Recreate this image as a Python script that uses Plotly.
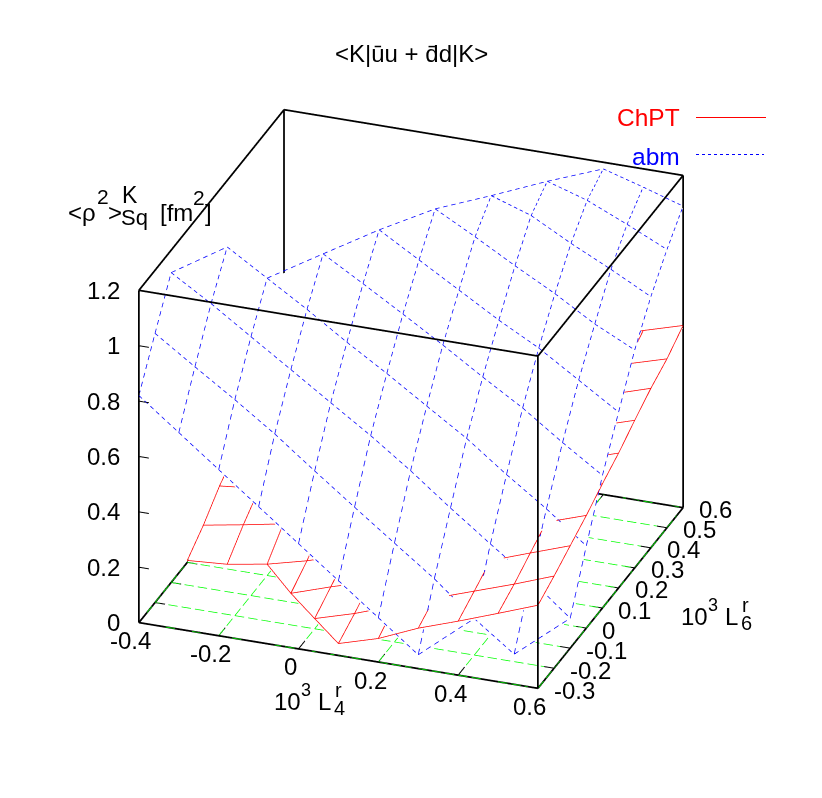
"""
Kaon scalar radius surfaces, ChPT against abm, as a hidden-line 3D box.
"""

import plotly.graph_objects as go

# grid of the two low energy constants
x_nodes = [-0.4, -0.3, -0.2, -0.1, 0.0, 0.1, 0.2, 0.3, 0.4, 0.5, 0.6]
y_nodes = [-0.3, -0.2, -0.1, 0.0, 0.1, 0.2, 0.3, 0.4, 0.5, 0.6]

# rows follow y_nodes, columns follow x_nodes, None = outside the z range
chpt_z = [
    [None, None, None, None, None, 0.043, 0.085, 0.146, 0.195, 0.247, 0.300],
    [None, None, None, None, 0.037, 0.079, 0.130, 0.182, 0.231, 0.280, 0.333],
    [None, None, None, 0.032, 0.079, 0.122, 0.169, 0.219, 0.269, 0.320, 0.370],
    [0.007, 0.017, 0.041, 0.077, 0.122, 0.165, 0.212, 0.262, 0.312, 0.359, 0.407],
    [0.062, 0.087, 0.114, 0.139, 0.169, 0.209, 0.254, 0.304, 0.354, 0.399, 0.449],
    [0.131, 0.146, 0.171, 0.201, 0.231, 0.266, 0.306, 0.351, 0.396, 0.441, 0.487],
    [0.183, 0.198, 0.218, 0.248, 0.278, 0.313, 0.353, 0.398, 0.443, 0.488, 0.533],
    [0.236, 0.251, 0.271, 0.296, 0.326, 0.361, 0.401, 0.446, 0.486, 0.531, 0.576],
    [0.288, 0.303, 0.318, 0.343, 0.373, 0.408, 0.448, 0.488, 0.528, 0.568, 0.610],
    [0.340, 0.350, 0.370, 0.395, 0.420, 0.455, 0.495, 0.535, 0.575, 0.616, 0.658],
]
abm_z = [
    [0.820, 0.710, 0.600, 0.490, 0.380, 0.270, 0.160, 0.050, None, None, None],
    [0.972, 0.875, 0.780, 0.680, 0.570, 0.463, 0.357, 0.252, 0.132, 0.027, None],
    [1.119, 1.031, 0.935, 0.840, 0.744, 0.649, 0.546, 0.435, 0.329, 0.225, 0.108],
    [None, 1.163, 1.074, 0.985, 0.890, 0.801, 0.707, 0.614, 0.507, 0.407, 0.297],
    [None, None, None, 1.113, 1.029, 0.943, 0.855, 0.763, 0.675, 0.574, 0.479],
    [None, None, None, None, 1.151, 1.066, 0.981, 0.896, 0.819, 0.727, 0.635],
    [None, None, None, None, None, 1.178, 1.101, 1.020, 0.943, 0.857, 0.787],
    [None, None, None, None, None, None, 1.177, 1.129, 1.052, 0.982, 0.907],
    [None, None, None, None, None, None, None, 1.180, 1.135, 1.072, 1.005],
    [None, None, None, None, None, None, None, None, 1.176, 1.134, 1.089],
]

x_range = [-0.4, 0.6]
y_range = [-0.3, 0.6]
z_range = [0, 1.2]
x_ticks = [-0.4, -0.2, 0, 0.2, 0.4, 0.6]
y_ticks = [-0.3, -0.2, -0.1, 0, 0.1, 0.2, 0.3, 0.4, 0.5, 0.6]
z_ticks = [0, 0.2, 0.4, 0.6, 0.8, 1, 1.2]

FONT = "Liberation Sans"
# the page keeps its 8px body margin, figure sits inside it
W, H = 806, 782
PAGE = 8
# axes run a little past the box: scatter3d clips at the axis range and eats lines on it
PAD = 0.01


def add_lines(fig, segs, color, width, dashes=0, duty=0.6):
    """Straight segments; with dashes > 0 each one is cut into that many dashes
    (the WebGL dash pattern is far too long for this picture)."""
    lx, ly, lz = [], [], []
    for a, b in segs:
        if dashes:
            for n in range(dashes):
                f0, f1 = n / dashes, (n + duty) / dashes
                lx.extend([a[0] + (b[0] - a[0]) * f0, a[0] + (b[0] - a[0]) * f1, None])
                ly.extend([a[1] + (b[1] - a[1]) * f0, a[1] + (b[1] - a[1]) * f1, None])
                lz.extend([a[2] + (b[2] - a[2]) * f0, a[2] + (b[2] - a[2]) * f1, None])
        else:
            lx.extend([a[0], b[0], None])
            ly.extend([a[1], b[1], None])
            lz.extend([a[2], b[2], None])
    fig.add_trace(go.Scatter3d(
        x=lx, y=ly, z=lz, mode="lines", hoverinfo="skip",
        line=dict(color=color, width=width),
    ))


def add_surface(fig, z, color, width, dashes=0, duty=0.6):
    """White mesh for hiding, grid lines on top, triangles kept where 3 nodes are valid."""
    nx, ny = len(x_nodes), len(y_nodes)
    xs, ys, zs = [], [], []
    for j in range(ny):
        for i in range(nx):
            xs.append(x_nodes[i])
            ys.append(y_nodes[j])
            # mesh sits a hair below its lines so they don't z-fight
            zs.append(z[j][i] - 0.008 if z[j][i] is not None else 0)
    tri_i, tri_j, tri_k = [], [], []
    segs = []

    def seg(a, b):
        segs.append(((x_nodes[a[0]], y_nodes[a[1]], z[a[1]][a[0]]),
                     (x_nodes[b[0]], y_nodes[b[1]], z[b[1]][b[0]])))

    for j in range(ny):
        for i in range(nx):
            if i + 1 < nx and z[j][i] is not None and z[j][i + 1] is not None:
                seg((i, j), (i + 1, j))
            if j + 1 < ny and z[j][i] is not None and z[j + 1][i] is not None:
                seg((i, j), (i, j + 1))
            if i + 1 < nx and j + 1 < ny:
                quad = [(i, j), (i + 1, j), (i + 1, j + 1), (i, j + 1)]
                good = [p for p in quad if z[p[1]][p[0]] is not None]
                ids = [p[1] * nx + p[0] for p in good]
                if len(good) == 4:
                    tri_i += [ids[0], ids[0]]
                    tri_j += [ids[1], ids[2]]
                    tri_k += [ids[2], ids[3]]
                elif len(good) == 3:
                    tri_i.append(ids[0])
                    tri_j.append(ids[1])
                    tri_k.append(ids[2])
                    # hypotenuse is the edge whose ends are not neighbours on the grid
                    for a, b in [(good[0], good[1]), (good[1], good[2]), (good[0], good[2])]:
                        if a[0] != b[0] and a[1] != b[1]:
                            seg(a, b)
    fig.add_trace(go.Mesh3d(
        x=xs, y=ys, z=zs, i=tri_i, j=tri_j, k=tri_k, color="white", opacity=1,
        flatshading=True, hoverinfo="skip",
        lighting=dict(ambient=1, diffuse=0, specular=0, roughness=1, fresnel=0),
    ))
    add_lines(fig, segs, color, width, dashes, duty)


def paper_text(text, px, py, size=24, color="black", xanchor="center"):
    return dict(
        text=text, x=(px - PAGE) / W, y=1 - (py - PAGE) / H, xref="paper", yref="paper",
        xanchor=xanchor, yanchor="middle", showarrow=False, borderpad=0, borderwidth=0,
        font=dict(family=FONT, size=size, color=color),
    )


def tick_text(text, x, y, z, dx, dy, xanchor="center"):
    return dict(
        text=text, x=x, y=y, z=z, xshift=dx, yshift=dy, xanchor=xanchor, yanchor="middle",
        showarrow=False, font=dict(family=FONT, size=24, color="black"),
    )


fig = go.Figure()
add_surface(fig, chpt_z, "#ff0000", 1.5)
add_surface(fig, abm_z, "#0000ff", 1.5, dashes=7, duty=0.55)

x0, x1 = x_range
y0, y1 = y_range
z0, z1 = z_range

box = [
    ((x0, y0, z0), (x1, y0, z0)), ((x1, y0, z0), (x1, y1, z0)),
    ((x1, y1, z0), (x0, y1, z0)), ((x0, y1, z0), (x0, y0, z0)),
    ((x0, y0, z1), (x1, y0, z1)), ((x1, y0, z1), (x1, y1, z1)),
    ((x1, y1, z1), (x0, y1, z1)), ((x0, y1, z1), (x0, y0, z1)),
    ((x0, y0, z0), (x0, y0, z1)), ((x1, y0, z0), (x1, y0, z1)),
    ((x1, y1, z0), (x1, y1, z1)), ((x0, y1, z0), (x0, y1, z1)),
]
add_lines(fig, box, "black", 3.5)

# inward ticks on both sides of the base and up the left edge
ticks = []
for t in x_ticks:
    ticks += [((t, y0, 0), (t, y0 + 0.04, 0)), ((t, y1, 0), (t, y1 - 0.04, 0))]
for t in y_ticks:
    ticks += [((x1, t, 0), (x1 - 0.025, t, 0)), ((x0, t, 0), (x0 + 0.025, t, 0))]
for t in z_ticks:
    ticks.append(((x0, y0, t), (x0 + 0.025, y0, t)))
add_lines(fig, ticks, "black", 2)

# base grid
add_lines(fig, [((t, y0, 0), (t, y1, 0)) for t in x_ticks], "#00ff00", 1.5, dashes=18, duty=0.7)
add_lines(fig, [((x0, t, 0), (x1, t, 0)) for t in y_ticks], "#00ff00", 1.5, dashes=30, duty=0.7)

axis_style = dict(
    showbackground=False, showgrid=False, zeroline=False, showspikes=False,
    showline=False, ticks="", showticklabels=False, title="",
)

scene_notes = []
for t in x_ticks:
    scene_notes.append(tick_text(f"{t:g}", t, y0, 0, -8, -18))
for t in y_ticks:
    scene_notes.append(tick_text(f"{t:g}", x1, t, 0, 14, -2, "left"))
for t in z_ticks:
    scene_notes.append(tick_text(f"{t:g}", x0, y0, t, -17, 0, "right"))

fig.update_layout(
    width=W, height=H, margin=dict(l=0, r=0, t=0, b=0), showlegend=False,
    paper_bgcolor="white",
    font=dict(family=FONT, color="black"),
    scene=dict(
        domain=dict(x=[0, 1], y=[0, 1]),
        aspectmode="manual",
        aspectratio=dict(x=1.086 * (x1 - x0 + 2 * PAD) / (x1 - x0),
                         y=1.086 * (y1 - y0 + 2 * PAD) / (y1 - y0),
                         z=0.953 * (z1 - z0 + 2 * PAD) / (z1 - z0)),
        camera=dict(
            projection=dict(type="orthographic"),
            up=dict(x=0, y=0, z=1), center=dict(x=0, y=0, z=0),
            eye=dict(x=0.303 * 2, y=-0.833 * 2, z=0.45 * 2),
        ),
        xaxis=dict(axis_style, range=[x0 - PAD, x1 + PAD]),
        yaxis=dict(axis_style, range=[y0 - PAD, y1 + PAD]),
        zaxis=dict(axis_style, range=[z0 - PAD, z1 + PAD]),
        annotations=scene_notes,
    ),
    annotations=[
        paper_text("&lt;K|ūu + d̄d|K&gt;", 411, 53, 24),
        paper_text("&lt;ρ", 68, 212, xanchor="left"),
        paper_text("2", 97, 196, 21, xanchor="left"),
        paper_text("&gt;", 108, 212, xanchor="left"),
        paper_text("K", 130, 195, 23),
        paper_text("Sq", 135, 217, 22),
        paper_text("[fm", 160, 212, xanchor="left"),
        paper_text("2", 193, 197, 21, xanchor="left"),
        paper_text("]", 205, 212, xanchor="left"),
        paper_text("10", 274, 701, xanchor="left"),
        paper_text("3", 301, 690, 18, xanchor="left"),
        paper_text("L", 318, 701, xanchor="left"),
        paper_text("r", 338, 690, 20),
        paper_text("4", 339, 708, 20),
        paper_text("10", 681, 616, xanchor="left"),
        paper_text("3", 708, 605, 18, xanchor="left"),
        paper_text("L", 725, 616, xanchor="left"),
        paper_text("r", 745, 605, 20),
        paper_text("6", 746, 623, 20),
        paper_text("ChPT", 680, 117, 24.5, "#ff0000", "right"),
        paper_text("abm", 680, 156, 24.5, "#0000ff", "right"),
    ],
    shapes=[
        dict(type="line", xref="paper", yref="paper", x0=(696 - PAGE) / W, x1=(766 - PAGE) / W,
             y0=1 - (117.5 - PAGE) / H, y1=1 - (117.5 - PAGE) / H,
             line=dict(color="#ff0000", width=1)),
        dict(type="line", xref="paper", yref="paper", x0=(696 - PAGE) / W, x1=(764 - PAGE) / W,
             y0=1 - (154.5 - PAGE) / H, y1=1 - (154.5 - PAGE) / H,
             line=dict(color="#0000ff", width=1, dash="3px,3px")),
    ],
)

fig.write_html("out.html")
